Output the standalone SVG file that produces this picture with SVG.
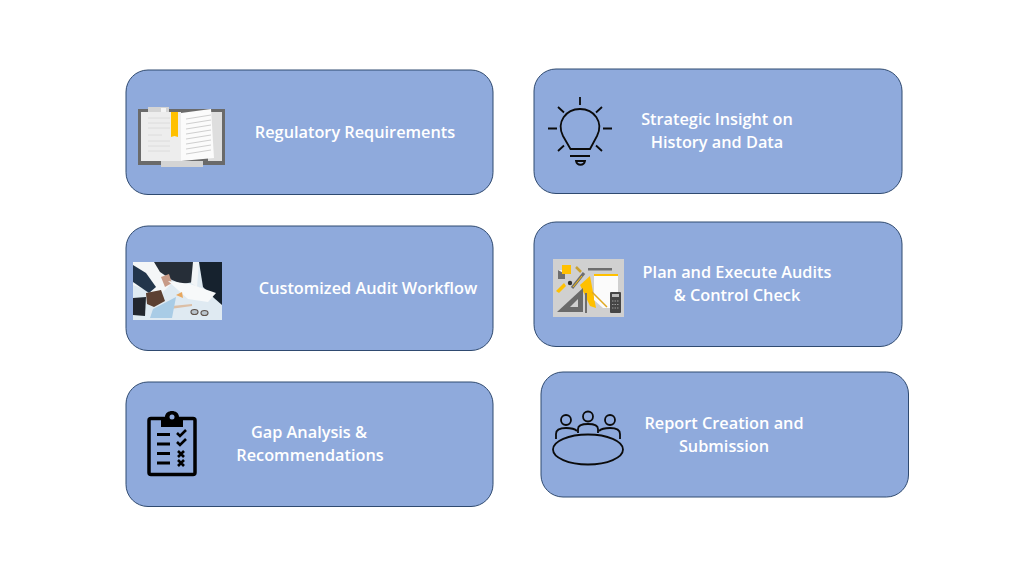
<svg xmlns="http://www.w3.org/2000/svg" width="1024" height="576" viewBox="0 0 1024 576">
<defs><style>
.box{fill:#8faadc;stroke:#2f4a70;stroke-width:1}
.t{font-family:"Open Sans","Noto Sans","Liberation Sans",sans-serif;font-size:16.3px;font-weight:600;fill:#fff;text-anchor:middle}
.ln{fill:none;stroke:#0b0b0b;stroke-width:1.8}
.k{fill:none;stroke:#000;stroke-width:2.6}
</style>
<filter id="b" x="-5%" y="-5%" width="110%" height="110%"><feGaussianBlur stdDeviation="0.55"/></filter>
<filter id="s" x="-5%" y="-5%" width="110%" height="110%"><feGaussianBlur stdDeviation="0.4"/></filter>
<clipPath id="pc"><rect x="133" y="262" width="89" height="58"/></clipPath>
</defs>
<rect width="1024" height="576" fill="#fff"/>
<g id="connectors"/>

<g id="node-regulatory">
<rect class="box" x="126" y="70" width="367" height="124.500" rx="22"/>
<g id="book" filter="url(#s)">
<rect x="138" y="109" width="87" height="56" fill="#6b6b6b"/>
<rect x="148" y="107" width="21" height="7" fill="#d4d4d4"/>
<rect x="161" y="108" width="5" height="4" fill="#f4f4f4"/>
<rect x="161" y="161" width="42" height="6" fill="#d4d4d4"/>
<rect x="141" y="112" width="40" height="49" fill="#ededed"/>
<rect x="208" y="112" width="14" height="49" fill="#dedede"/>
<path d="M181 113 L211 109 L214 158 L181 161Z" fill="#fbfbfb"/>
<path d="M148 118H170M148 123H170M148 128H170M148 135H162M148 141H170M148 146H170M148 151H170" stroke="#dcdcdc" stroke-width="1"/>
<path d="M186 119L211 115M186 124L211 120M186 129L211 125M186 134L211 130M186 139L211 135M186 144L211 140M186 149L211 145M186 154L211 150" stroke="#cfcfcf" stroke-width="1"/>
<path d="M171 112H178V137L174.500 136 171 137Z" fill="#ffc000"/>
</g>
<text class="t" x="355" y="138">Regulatory Requirements</text>
</g>

<g id="node-strategic">
<rect class="box" x="534" y="69" width="368" height="124.500" rx="22"/>
<g id="bulb">
<path class="ln" d="M570.500 149 L563 136 C556 122 566 109 580 109 C594 109 604 122 597 136 L590 149 Z"/>
<path class="ln" d="M580 97V105M548 128.500H557M603 128.500H612M558 107L564 112.500M602 107L596 112.500M558 151L564 145.500M602 151L596 145.500M570 156H590"/>
<path class="ln" d="M576 161H585C584 166 577 166 576 161Z"/>
</g>
<text class="t" x="717" y="124.500">Strategic Insight on</text>
<text class="t" x="717" y="147.500">History and Data</text>
</g>

<g id="node-workflow">
<rect class="box" x="126" y="226" width="367" height="124.500" rx="22"/>
<g id="photo" clip-path="url(#pc)">
<g filter="url(#b)">
<rect x="133" y="262" width="89" height="58" fill="#dfeaf2"/>
<path d="M133 262H155L170 285L160 295L133 285Z" fill="#f4f6f7"/>
<path d="M154 262H196L194 282L182 284L172 280L160 272Z" fill="#252e37"/>
<path d="M199 262H222V305L214 298L203 287Z" fill="#15222e"/>
<path d="M193 262H199L197 287L191 283Z" fill="#f2f5f7"/>
<path d="M133 265L146 273L156 287L149 293L133 282Z" fill="#22364b"/>
<path d="M133 298L146 297L145 316L133 315Z" fill="#20282f"/>
<path d="M146 293L161 290L165 301L154 307L147 304Z" fill="#5c4030"/>
<path d="M161 277L169 274L172 283L165 287Z" fill="#c79a86"/>
<path d="M191 288L199 287L201 296L193 296Z" fill="#c79a86"/>
<path d="M168 281L190 284L216 293L208 302L188 299Z" fill="#f7f9fa"/>
<path d="M162 307L192 304L192 306L163 310Z" fill="#dcbfa6"/>
<path d="M153 309L176 297L172 318H150Z" fill="#a9cce6"/>
<path d="M176 295L182 292L183 298Z" fill="#e8a860"/>
<path d="M191 312a3.500 2.500 0 0 1 7 0a3.500 2.500 0 0 1-7 0M201 313a3.500 2.500 0 0 1 7 0a3.500 2.500 0 0 1-7 0" fill="#b9c4cc" stroke="#5e524c" stroke-width="1.200"/>
</g>
</g>
<text class="t" x="368" y="294">Customized Audit Workflow</text>
</g>

<g id="node-plan">
<rect class="box" x="534" y="222" width="368" height="124.500" rx="22"/>
<g id="tools" filter="url(#s)">
<rect x="553" y="259" width="71" height="58" fill="#d0d0d0"/>
<rect x="558" y="270" width="7" height="9" fill="#f2f2f2"/>
<path d="M558 270L565 274V279H558Z" fill="#6e6e6e"/>
<rect x="562" y="265" width="9" height="9" fill="#ffc000"/>
<path d="M556 291L564 283L566 286L559 293Z" fill="#ffc000"/>
<circle cx="570" cy="283" r="2.200" fill="#333"/>
<path d="M576 267L581 272" stroke="#c9a030" stroke-width="2.500"/>
<path d="M572 288L584 273" stroke="#6e6e6e" stroke-width="3"/>
<path d="M573 287L582 276" stroke="#ffc000" stroke-width="1"/>
<rect x="588" y="268" width="24" height="2.500" fill="#6e6e6e"/>
<path d="M580 285L590 276L596 308L590 306Z" fill="#ffc000"/>
<path d="M594 274H618V308H603L594 300Z" fill="#fbfbfb"/>
<rect x="594" y="274" width="24" height="2" fill="#ffc000"/>
<path d="M592 292L607 307" stroke="#e0a820" stroke-width="1.500"/>
<path d="M583 288V312H557Z" fill="#6a6a6a"/>
<path d="M578 299V307H570Z" fill="#d0d0d0"/>
<path d="M586 293V313" stroke="#6e6e6e" stroke-width="2"/>
<rect x="610" y="292" width="11" height="21" rx="1" fill="#454545"/>
<rect x="612" y="294" width="7" height="3" fill="#bbb"/>
<path d="M612 301H619M612 304.500H619M612 308H619" stroke="#999" stroke-width="1.200" stroke-dasharray="1.500 1"/>
</g>
<text class="t" x="737" y="278">Plan and Execute Audits</text>
<text class="t" x="737" y="301">&amp; Control Check</text>
</g>

<g id="node-gap">
<rect class="box" x="126" y="382" width="367" height="124.500" rx="22"/>
<g id="clipboard">
<rect x="149" y="418.500" width="46" height="56" rx="2" fill="none" stroke="#000" stroke-width="3.500"/>
<path d="M161 427V417H165C165 409 179 409 179 417H183V427Z" fill="#000"/>
<circle cx="172" cy="417" r="2.500" fill="#8faadc"/>
<path d="M157 434.500H170M157 444H170M157 453.500H170M157 463H170" stroke="#000" stroke-width="2.800"/>
<path class="k" d="M177 433L180 436L186 430M177 442L180 445L186 439"/>
<path class="k" d="M178 451L184 457M184 451L178 457M178 460L184 466M184 460L178 466"/>
</g>
<text class="t" x="309" y="438">Gap Analysis &amp;</text>
<text class="t" x="310" y="461">Recommendations</text>
</g>

<g id="node-report">
<rect class="box" x="541" y="372" width="367.500" height="125" rx="22"/>
<g id="meeting">
<ellipse class="ln" cx="588" cy="449.500" rx="35" ry="15"/>
<circle class="ln" cx="566" cy="420" r="5"/>
<circle class="ln" cx="588" cy="416.500" r="5"/>
<circle class="ln" cx="610" cy="420" r="5"/>
<path class="ln" d="M556 439V434C556 429 560 428 566 428C571 428 575 429 577 431"/>
<path class="ln" d="M578 433V429C578 425 582 424 588 424C594 424 598 425 598 429V433"/>
<path class="ln" d="M620 439V434C620 429 616 428 610 428C605 428 601 429 599 431"/>
</g>
<text class="t" x="724" y="429">Report Creation and</text>
<text class="t" x="724" y="452">Submission</text>
</g>
</svg>
